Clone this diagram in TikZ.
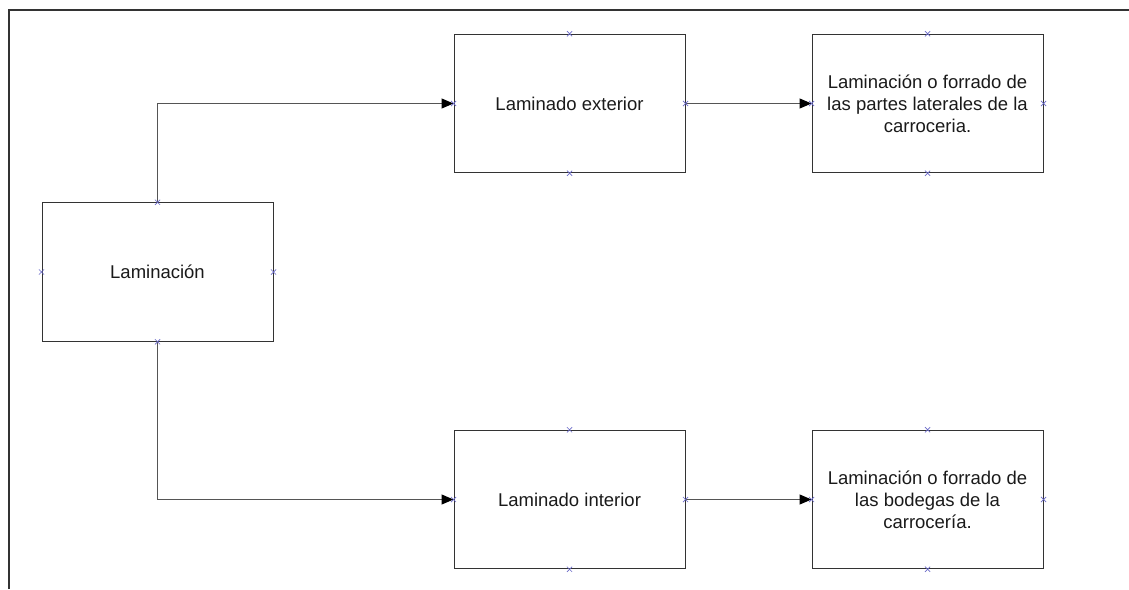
\documentclass[tikz,border=0pt]{standalone}
\usepackage{fontspec}
\setmainfont{Liberation Sans}
\usetikzlibrary{arrows.meta,shapes.misc}
\definecolor{boxline}{HTML}{333333}
\definecolor{linkline}{HTML}{555555}
\definecolor{pinblue}{HTML}{6A6AC8}
\definecolor{inktext}{HTML}{1A1A1A}
\begin{document}
\begin{tikzpicture}[x=1pt,y=-1pt,
  stepbox/.style={draw=boxline, line width=1pt, rectangle, inner sep=0pt,
    minimum width=231pt, minimum height=138.5pt, align=center,
    text=inktext, font=\fontsize{18.5}{22.2}\selectfont},
  link/.style={draw=linkline, line width=1.2pt,
    -{Triangle[length=12pt,width=10pt,fill=black,color=black]}},
  pin/.style={cross out, draw=pinblue, line width=0.7pt, inner sep=0pt,
    minimum size=4.5pt}]
  \useasboundingbox (0,0) rectangle (1129,589);
  % page frame (top and left edges)
  \draw[boxline, line width=1.3pt] (9,589) -- (9,10) -- (1129,10);

  % process boxes
  \node[stepbox] (lam)  at (157.5,272)   {Laminación};
  \node[stepbox] (ext)  at (569.5,103.5) {Laminado exterior};
  \node[stepbox] (extd) at (927.5,103.5) {Laminación o forrado de\\las partes laterales de la\\carroceria.};
  \node[stepbox] (int)  at (569.5,499.5) {Laminado interior};
  \node[stepbox] (intd) at (927.5,499.5) {Laminación o forrado de\\las bodegas de la\\carrocería.};

  % connectors
  \draw[link] (lam.north) |- (ext.west);
  \draw[link] (lam.south) |- (int.west);
  \draw[link] (ext.east) -- (extd.west);
  \draw[link] (int.east) -- (intd.west);

  % connection points on every box side
  \foreach \n in {lam,ext,extd,int,intd}
    \foreach \a in {north,south,east,west}
      \node[pin] at (\n.\a) {};
\end{tikzpicture}
\end{document}
